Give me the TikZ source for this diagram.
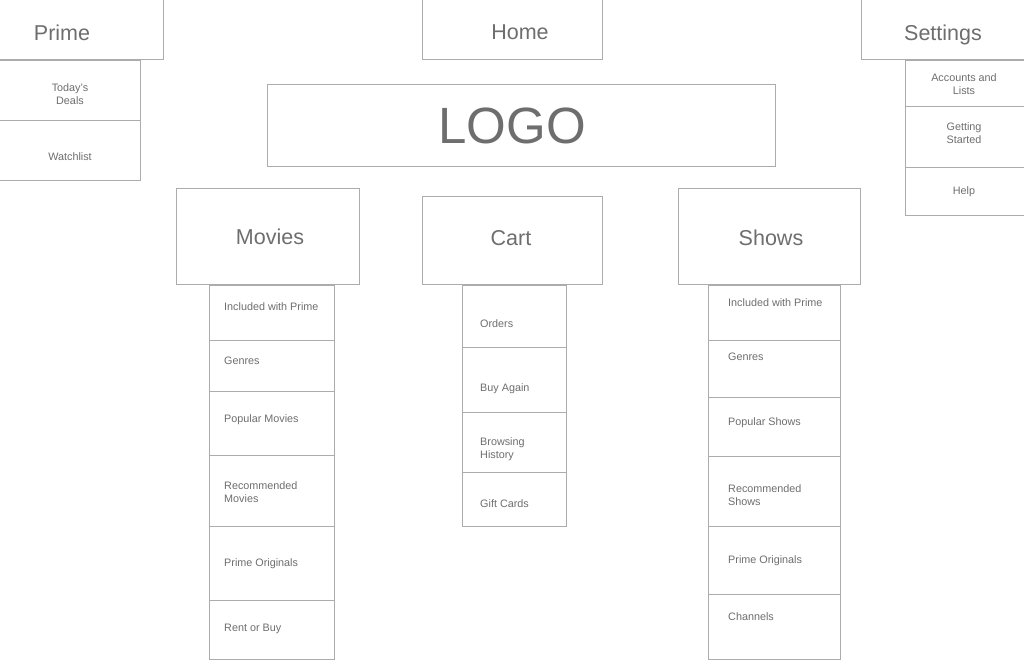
\documentclass[tikz,border=0pt]{standalone}
\usepackage{fontspec}
\setmainfont{Liberation Sans}
\usetikzlibrary{fit}
\definecolor{linec}{RGB}{172,172,172}
\definecolor{textc}{RGB}{110,110,110}
\tikzset{
  x=1pt, y=-1pt,
  box/.style={draw=linec, line width=0.9pt, inner sep=0pt, fill=white},
  head/.style={text=textc, font=\fontsize{21.5}{24}\selectfont, inner sep=0pt},
  logo/.style={text=textc, font=\fontsize{51}{56}\selectfont, inner sep=0pt},
  sub/.style={text=textc, font=\fontsize{10.8}{13}\selectfont, inner sep=0pt, align=left, anchor=west},
  subc/.style={text=textc, font=\fontsize{10.8}{13}\selectfont, inner sep=0pt, align=center},
}
\begin{document}
\begin{tikzpicture}
\useasboundingbox[fill=white] (0,0) rectangle (1024,668);
% top headers
\node[box, fit={(-2,-2) (163,59)}] (prime) {};
\node[head] (primet) at (62,33) {Prime};
\node[box, fit={(422,-2) (602,59)}] (home) {};
\node[head] (homet) at (520,32) {Home};
\node[box, fit={(861,-2) (1030,59)}] (settings) {};
\node[head] (settingst) at (943,35) {Settings};
% prime submenu
\node[box, fit={(-2,60) (140,120)}] (deals) {};
\node[box, fit={(-2,120) (140,180)}] (watch) {};
\node[subc] (dealst) at (70,94.5) {Today's\\Deals};
\node[subc] (watcht) at (70,156.5) {Watchlist};
% settings submenu
\node[box, fit={(905,60) (1030,106)}] (acct) {};
\node[box, fit={(905,106) (1030,167)}] (start) {};
\node[box, fit={(905,167) (1030,215)}] (help) {};
\node[subc] (acctt) at (964,84.5) {Accounts and\\Lists};
\node[subc] (startt) at (964,133.5) {Getting\\Started};
\node[subc] (helpt) at (964,191.5) {Help};
% logo
\node[box, fit={(267,84) (775,166)}] (logo) {};
\node[logo] (logot) at (512,126) {LOGO};
% main headers
\node[box, fit={(176,188) (359,284)}] (movies) {};
\node[head] (moviest) at (270,237) {Movies};
\node[box, fit={(422,196) (602,284)}] (cart) {};
\node[head] (cartt) at (511,238) {Cart};
\node[box, fit={(678,188) (860,284)}] (shows) {};
\node[head] (showst) at (771,238) {Shows};
% movies submenu
\node[box, fit={(209,285) (334,340)}] (m1) {};
\node[box, fit={(209,340) (334,391)}] (m2) {};
\node[box, fit={(209,391) (334,455)}] (m3) {};
\node[box, fit={(209,455) (334,526)}] (m4) {};
\node[box, fit={(209,526) (334,600)}] (m5) {};
\node[box, fit={(209,600) (334,659)}] (m6) {};
\node[sub] (m1t) at (224,306.5) {Included with Prime};
\node[sub] (m2t) at (224,360.5) {Genres};
\node[sub] (m3t) at (224,419.5) {Popular Movies};
\node[sub] (m4t) at (224,492) {Recommended\\Movies};
\node[sub] (m5t) at (224,563.5) {Prime Originals};
\node[sub] (m6t) at (224,628.5) {Rent or Buy};
% cart submenu
\node[box, fit={(462,285) (566,347)}] (c1) {};
\node[box, fit={(462,347) (566,412)}] (c2) {};
\node[box, fit={(462,412) (566,472)}] (c3) {};
\node[box, fit={(462,472) (566,526)}] (c4) {};
\node[sub] (c1t) at (480,323.5) {Orders};
\node[sub] (c2t) at (480,388.5) {Buy Again};
\node[sub] (c3t) at (480,449) {Browsing\\History};
\node[sub] (c4t) at (480,503.5) {Gift Cards};
% shows submenu
\node[box, fit={(708,285) (840,340)}] (s1) {};
\node[box, fit={(708,340) (840,397)}] (s2) {};
\node[box, fit={(708,397) (840,456)}] (s3) {};
\node[box, fit={(708,456) (840,526)}] (s4) {};
\node[box, fit={(708,526) (840,594)}] (s5) {};
\node[box, fit={(708,594) (840,659)}] (s6) {};
\node[sub] (s1t) at (728,302.5) {Included with Prime};
\node[sub] (s2t) at (728,356.5) {Genres};
\node[sub] (s3t) at (728,422.5) {Popular Shows};
\node[sub] (s4t) at (728,495) {Recommended\\Shows};
\node[sub] (s5t) at (728,560.5) {Prime Originals};
\node[sub] (s6t) at (728,616.5) {Channels};
\end{tikzpicture}
\end{document}
